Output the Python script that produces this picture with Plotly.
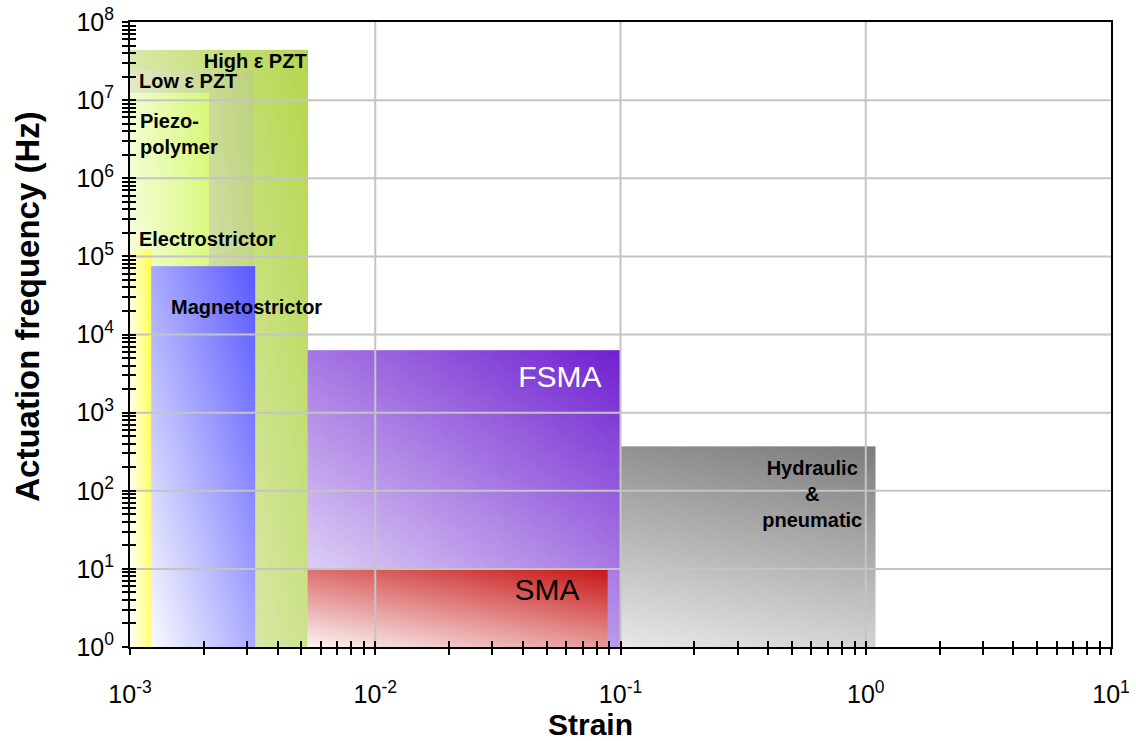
import numpy as np
import plotly.graph_objects as go

# ---------------- data ----------------
technologies = ["High ε PZT", "Low ε PZT", "Piezo-polymer", "Electrostrictor",
                "Magnetostrictor", "FSMA", "SMA", "Hydraulic & pneumatic"]
strain_min = [1.0e-3, 1.0e-3, 1.0e-3, 1.0e-3, 1.22e-3, 5.3e-3, 5.3e-3, 1.0e-1]
strain_max = [5.3e-3, 3.2e-3, 2.1e-3, 1.22e-3, 3.25e-3, 1.0e-1, 8.9e-2, 1.1]
freq_min = [1, 1, 1, 1, 1, 1, 1, 1]
freq_max = [4.4e7, 2.4e7, 1.24e7, 1.2e5, 7.5e4, 6.3e3, 10.2, 3.7e2]

# colour styles: light corner (low strain/low freq) -> dark corner, with weights along x / y
light_col = ["#f2f4ea", "#f4f6ee", "#fdfff4", "#ffffff", "#fafaff", "#f0eefc", "#fbf4f4", "#e8e8e8"]
dark_col = ["#b4d64a", "#bcd27a", "#d8f878", "#ffff50", "#5858ff", "#7020d0", "#c81414", "#7c7c7c"]
w_x = [0.6, 0.65, 0.7, 0.8, 0.5, 0.42, 0.4, 0.2]
w_y = [0.4, 0.35, 0.3, 0.2, 0.5, 0.58, 0.6, 0.8]

# labels
label_text = ["High ε PZT", "Low ε PZT", "Piezo-<br>polymer", "Electrostrictor",
              "Magnetostrictor", "FSMA", "SMA", "Hydraulic<br>&<br>pneumatic"]
label_x = [5.25e-3, 1.088e-3, 1.098e-3, 1.088e-3, 1.47e-3, 8.37e-2, 6.81e-2, 0.605]
label_y = [3.0e7, 1.67e7, 3.47e6, 1.59e5, 2.13e4, 2.69e3, 4.98, 86.5]
label_pos = ["middle left", "middle right", "middle right", "middle right",
             "middle right", "middle left", "middle left", "middle center"]
label_size = [20, 20, 20, 20, 20, 30, 30, 20]
label_weight = ["bold", "bold", "bold", "bold", "bold", "normal", "normal", "bold"]
label_color = ["black", "black", "black", "black", "black", "white", "black", "black"]

# axes
x_ticks = [1e-3, 1e-2, 1e-1, 1e0, 1e1]
x_ticktext = ["10<sup>-3</sup>", "10<sup>-2</sup>", "10<sup>-1</sup>", "10<sup>0</sup>", "10<sup>1</sup>"]
y_ticks = [1e0, 1e1, 1e2, 1e3, 1e4, 1e5, 1e6, 1e7, 1e8]
y_ticktext = ["10<sup>%d</sup>" % i for i in range(9)]
minor_digits = [2, 3, 4, 5, 6, 7, 8, 9]

FONT = "Liberation Sans, Arial, Helvetica, sans-serif"


def gradient_rect(x0, x1, y0, y1, light, dark, wu, wv, n=60):
    """Rectangle filled with a diagonal colour gradient (heatmap rendering)."""
    xe = np.logspace(np.log10(x0), np.log10(x1), n + 1)
    ye = np.logspace(np.log10(y0), np.log10(y1), n + 1)
    t = (np.arange(n) + 0.5) / n
    z = wu * t[None, :] + wv * t[:, None]
    return go.Heatmap(x=xe, y=ye, z=z, zmin=0, zmax=1,
                      colorscale=[[0, light], [1, dark]], showscale=False,
                      hoverinfo="skip", zsmooth=False)


fig = go.Figure()

for i in range(len(technologies)):
    fig.add_trace(gradient_rect(strain_min[i], strain_max[i], freq_min[i], freq_max[i],
                                light_col[i], dark_col[i], w_x[i], w_y[i]))

# grid lines drawn above the coloured areas
gx, gy = [], []
for xv in x_ticks[1:-1]:
    gx += [xv, xv, None]
    gy += [y_ticks[0], y_ticks[-1], None]
for yv in y_ticks[1:-1]:
    gx += [x_ticks[0], x_ticks[-1], None]
    gy += [yv, yv, None]
fig.add_trace(go.Scatter(x=gx, y=gy, mode="lines", line=dict(color="#c4c4c4", width=2),
                         hoverinfo="skip", showlegend=False))

for i in range(len(label_text)):
    fig.add_trace(go.Scatter(x=[label_x[i]], y=[label_y[i]], mode="text", text=[label_text[i]],
                             textposition=label_pos[i],
                             textfont=dict(family=FONT, size=label_size[i], color=label_color[i],
                                           weight=label_weight[i]),
                             hoverinfo="skip", showlegend=False))

# invisible trace so the overlay axes (inner half of the crossing ticks) are drawn
fig.add_trace(go.Scatter(x=[x_ticks[0]], y=[y_ticks[0]], xaxis="x2", yaxis="y2", mode="markers",
                         marker=dict(opacity=0), hoverinfo="skip", showlegend=False))

x_minor = [d * t for t in x_ticks[:-1] for d in minor_digits]
y_minor = [d * t for t in y_ticks[:-1] for d in minor_digits]

common_x = dict(type="log", range=[-3, 1], tickmode="array", tickvals=x_ticks,
                ticklen=6, tickwidth=1.5, tickcolor="black", showgrid=False, zeroline=False)
common_y = dict(type="log", range=[0, 8], tickmode="array", tickvals=y_ticks,
                ticklen=6, tickwidth=1.5, tickcolor="black", showgrid=False, zeroline=False)

fig.update_layout(
    width=1136, height=741,
    margin=dict(l=130, r=25, t=22, b=94, autoexpand=False),
    plot_bgcolor="white", paper_bgcolor="white", showlegend=False,
    font=dict(family=FONT, color="black"),
    xaxis=dict(**common_x, ticktext=x_ticktext, ticks="outside",
               showline=True, linecolor="black", linewidth=2, mirror=True,
               tickfont=dict(family=FONT, size=25, color="black"), ticklabelstandoff=18,
               minor=dict(tickvals=x_minor, ticks="outside", ticklen=6, tickwidth=1.5,
                          tickcolor="black", showgrid=False)),
    yaxis=dict(**common_y, ticktext=y_ticktext, ticks="outside",
               showline=True, linecolor="black", linewidth=2, mirror=True,
               tickfont=dict(family=FONT, size=25, color="black"), ticklabelstandoff=3,
               minor=dict(tickvals=y_minor, ticks="outside", ticklen=6, tickwidth=1.5,
                          tickcolor="black", showgrid=False)),
    xaxis2=dict(**common_x, overlaying="x", anchor="y", side="bottom", ticks="inside",
                showticklabels=False, showline=False,
                minor=dict(tickvals=x_minor, ticks="inside", ticklen=6, tickwidth=1.5,
                           tickcolor="black", showgrid=False)),
    yaxis2=dict(**common_y, overlaying="y", anchor="x", side="left", ticks="inside",
                showticklabels=False, showline=False,
                minor=dict(tickvals=y_minor, ticks="inside", ticklen=6, tickwidth=1.5,
                           tickcolor="black", showgrid=False)),
    annotations=[
        dict(text="<b>Strain</b>", xref="paper", yref="paper", x=0.469, y=-0.124,
             xanchor="center", yanchor="middle", showarrow=False,
             font=dict(family=FONT, size=30, color="black")),
        dict(text="<b>Actuation frequency (Hz)</b>", xref="paper", yref="paper",
             x=-0.104, y=0.546, xanchor="center", yanchor="middle", textangle=-90,
             showarrow=False, font=dict(family=FONT, size=33, color="black")),
    ],
)

fig.write_html("out.html")
